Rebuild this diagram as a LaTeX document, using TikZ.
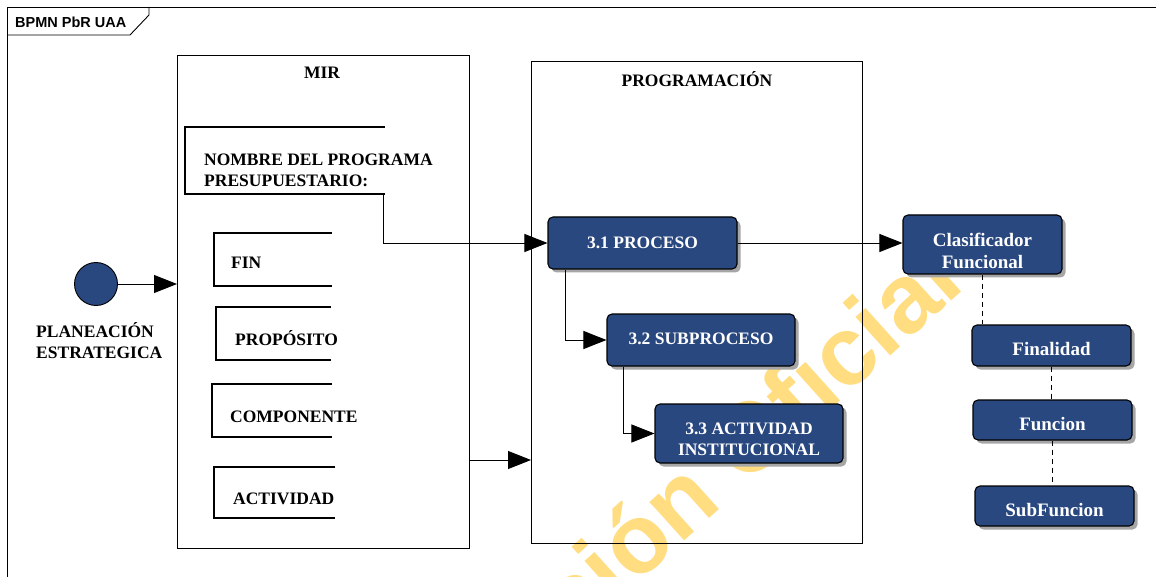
\documentclass[tikz,border=0pt]{standalone}
\usepackage{fontspec}
\setmainfont{Liberation Serif}
\newfontfamily\sansf{Liberation Sans}
\usetikzlibrary{arrows.meta,shadows}
\definecolor{boxblue}{RGB}{42,72,128}
\definecolor{wmorange}{RGB}{255,221,128}
\begin{document}
\begin{tikzpicture}[x=1pt,y=-1pt,
  thinl/.style={line width=0.9pt},
  arr/.style={thinl, -{Triangle[length=23pt,width=18pt]}},
  brk/.style={line width=2.4pt},
  lbl/.style={font=\fontsize{17.5}{21}\selectfont\bfseries, inner sep=0pt},
  blk/.style={draw=black, line width=1.1pt, fill=boxblue, rounded corners=5pt, inner sep=0pt,
    drop shadow={shadow xshift=3.5pt, shadow yshift=-3.5pt, fill=black!35, opacity=1}},
  btxt/.style={text=white, font=\fontsize{17.5}{21}\selectfont\bfseries, align=center, inner sep=0pt},
  btxtl/.style={btxt, font=\fontsize{19}{22}\selectfont\bfseries},
  cont/.style={draw=black, thinl, inner sep=0pt, anchor=north west},
  dsh/.style={thinl, dash pattern=on 5pt off 4pt}]
\useasboundingbox (0,0) rectangle (1156,577);
\fill[white] (0,0) rectangle (1156,577);
% watermark
\begin{scope}
\clip (0,0) rectangle (1156,577);
\node[rotate=42, anchor=base east, text=wmorange, inner sep=0pt,
  font=\sansf\bfseries\fontsize{98}{100}\selectfont] (wm) at (967,287) {Versión Oficial};
\end{scope}
% frame
\draw[thinl] (7,577) -- (7,7) -- (1156,7);
\draw[thinl] (149,7) -- (149,15) -- (130,35) -- (7,35);
\node[font=\sansf\bfseries\fontsize{14.5}{16}\selectfont, anchor=base west, inner sep=0pt] (title) at (15,27.5) {BPMN PbR UAA};
% containers
\node[cont, minimum width=292, minimum height=493] (mir) at (177,55) {};
\node[lbl] (mirt) at (322,73) {MIR};
\node[cont, minimum width=331, minimum height=482] (prog) at (531,61) {};
\node[lbl] (progt) at (697,79) {PROGRAMACIÓN};
% start event
\node[circle, draw=black, thinl, fill=boxblue, minimum size=43pt, inner sep=0pt] (plan) at (96,284) {};
\node[lbl, anchor=north west, align=left] (plant) at (36,322.5) {PLANEACIÓN\\ESTRATEGICA};
% MIR brackets
\draw[brk] (385,127) -- (185,127) -- (185,194) -- (385,194);
\node[lbl, anchor=north west, align=left] (nomb) at (204,153.5) {NOMBRE DEL PROGRAMA\\PRESUPUESTARIO:};
\draw[brk] (332,233) -- (214,233) -- (214,286) -- (332,286);
\node[lbl, anchor=base west] (fint) at (231,269) {FIN};
\draw[brk] (331,307) -- (216,307) -- (216,360) -- (331,360);
\node[lbl, anchor=base west] (propt) at (235,345) {PROPÓSITO};
\draw[brk] (332,384) -- (212,384) -- (212,437) -- (332,437);
\node[lbl, anchor=base west] (compt) at (230,422) {COMPONENTE};
\draw[brk] (335,467) -- (214,467) -- (214,518) -- (335,518);
\node[lbl, anchor=base west] (actt) at (233,504) {ACTIVIDAD};
% process boxes
\node[blk, minimum width=189pt, minimum height=52pt] (p31) at (642.5,243) {};
\node[btxt] (p31t) at (p31.center) {3.1 PROCESO};
\node[blk, minimum width=188pt, minimum height=52pt] (p32) at (701,340) {};
\node[btxt] (p32t) at ([yshift=1pt]p32.center) {3.2 SUBPROCESO};
\node[blk, minimum width=188pt, minimum height=59pt] (p33) at (749,433.5) {};
\node[btxt] (p33t) at ([yshift=-5.5pt]p33.center) {3.3 ACTIVIDAD\\INSTITUCIONAL};
\node[blk, minimum width=159pt, minimum height=59pt] (clas) at (982.5,244.5) {};
\node[btxtl] (clast) at ([yshift=-6pt]clas.center) {Clasificador\\Funcional};
\node[blk, minimum width=159pt, minimum height=41pt] (fin) at (1051.5,345.5) {};
\node[btxtl] (fint2) at ([yshift=-4pt]fin.center) {Finalidad};
\node[blk, minimum width=159pt, minimum height=40pt] (fun) at (1052.5,420) {};
\node[btxtl] (funt) at ([yshift=-4pt]fun.center) {Funcion};
\node[blk, minimum width=159pt, minimum height=40pt] (sub) at (1054.5,506) {};
\node[btxtl] (subt) at ([yshift=-4pt]sub.center) {SubFuncion};
% connectors
\draw[arr] (plan.east) -- (plan.east -| mir.west);
\coordinate (nb) at (383,194);
\draw[arr] (nb) |- (p31.west);
\coordinate (y460) at (0,460);
\draw[arr] (mir.east |- y460) -- (prog.west |- y460);
\draw[arr] (p31.east) -- (p31.east -| clas.west);
\draw[arr] ([xshift=18pt]p31.south west) |- (p32.west);
\draw[arr] ([xshift=17pt]p32.south west) |- (p33.west);
\draw[dsh] (clas.south) -- (clas.south |- fin.north);
\draw[dsh] (fin.south) -- (fin.south |- fun.north);
\draw[dsh] (fun.south) -- (fun.south |- sub.north);
\end{tikzpicture}
\end{document}
